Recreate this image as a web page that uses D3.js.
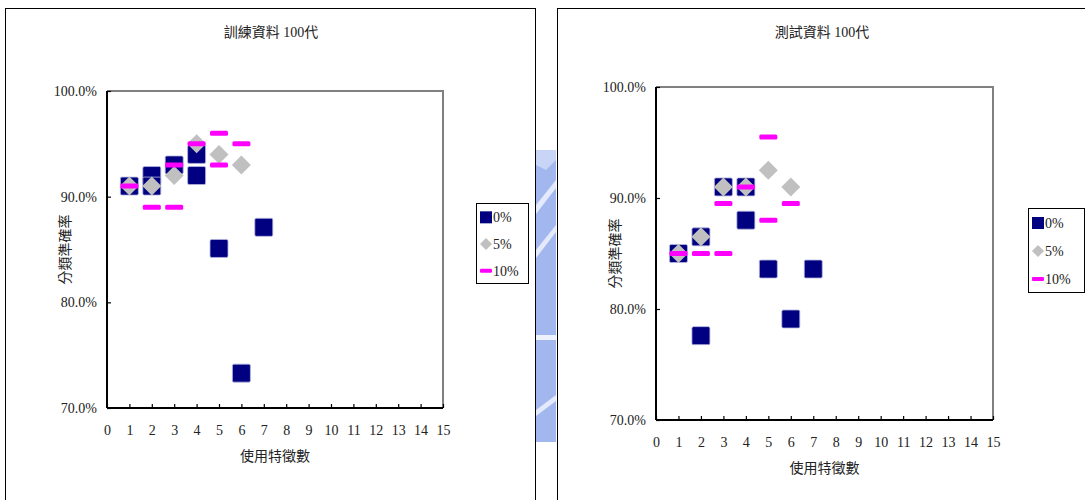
<!DOCTYPE html>
<html>
<head>
<meta charset="utf-8">
<script src="https://cdn.jsdelivr.net/npm/d3@7"></script>
<style>
  html, body { margin: 0; padding: 0; background: #fff; }
  svg { display: block; }
  text { font-family: "Liberation Serif", "Noto Sans CJK TC", serif; fill: #222; }
</style>
</head>
<body>
<svg id="chart" width="1085" height="500"></svg>
<script>
// Feature-count axis and accuracy axis
const xTickValues = d3.range(0, 16);
const yTickValues = [0.70, 0.80, 0.90, 1.00];
const seriesNames = ["0%", "5%", "10%"];

// Training data, 100 generations
const trainX0 = [1, 2, 2, 3, 4, 4, 5, 6, 7];
const trainY0 = [0.910, 0.920, 0.910, 0.930, 0.940, 0.920, 0.851, 0.733, 0.871];
const trainX5 = [1, 2, 3, 4, 5, 6];
const trainY5 = [0.910, 0.910, 0.920, 0.950, 0.940, 0.930];
const trainX10 = [1, 2, 3, 3, 4, 5, 5, 6];
const trainY10 = [0.910, 0.890, 0.930, 0.890, 0.950, 0.960, 0.930, 0.950];

// Test data, 100 generations
const testX0 = [1, 2, 2, 3, 4, 4, 5, 6, 7];
const testY0 = [0.850, 0.865, 0.776, 0.910, 0.910, 0.880, 0.836, 0.791, 0.836];
const testX5 = [1, 2, 3, 4, 5, 6];
const testY5 = [0.850, 0.865, 0.910, 0.910, 0.925, 0.910];
const testX10 = [1, 2, 3, 3, 4, 5, 5, 6];
const testY10 = [0.850, 0.850, 0.895, 0.850, 0.910, 0.955, 0.880, 0.895];

const svg = d3.select("#chart");
const zip = (xs, ys) => xs.map((x, i) => ({ x, y: ys[i] }));

// Watermark strip between the two panels
const wm = svg.append("g");
wm.append("rect").attr("x", 536).attr("y", 150).attr("width", 20).attr("height", 292)
  .attr("fill", "#a3b7ef");
wm.append("path").attr("d", "M536,150 L556,150 L556,160 L546,170 L536,165 Z").attr("fill", "#c9d5f6");
wm.append("path").attr("d", "M536,205 L556,180 L556,188 L536,214 Z").attr("fill", "#e4eafb");
wm.append("path").attr("d", "M536,250 L556,225 L556,232 L536,258 Z").attr("fill", "#e4eafb");
wm.append("rect").attr("x", 536).attr("y", 335).attr("width", 20).attr("height", 5).attr("fill", "#eef2fd");
wm.append("path").attr("d", "M536,410 L556,395 L556,401 L536,416 Z").attr("fill", "#e4eafb");

function drawPanel(cfg) {
  const g = svg.append("g");

  // panel frame (runs past the bottom edge)
  g.append("rect").attr("x", cfg.box[0] + 0.5).attr("y", cfg.box[1] + 0.5)
    .attr("width", cfg.box[2]).attr("height", 600)
    .attr("fill", "none").attr("stroke", "#000").attr("stroke-width", 1);

  g.append("text").attr("x", cfg.titleX).attr("y", 37).attr("text-anchor", "middle")
    .attr("font-size", 14).text(cfg.title);

  const [l, t, r, b] = cfg.plot;
  const x = d3.scaleLinear().domain([0, 15]).range([l, r]);
  const y = d3.scaleLinear().domain([0.70, 1.00]).range([b, t]);

  // plot frame: gray top/right
  g.append("path").attr("d", `M${l},${t} H${r} V${b}`)
    .attr("fill", "none").attr("stroke", "#808080").attr("stroke-width", 2);

  const xAxis = g.append("g").attr("transform", `translate(0,${b})`)
    .call(d3.axisBottom(x).tickValues(xTickValues).tickSize(-4).tickPadding(17)
      .tickFormat(d3.format("d")));
  const yAxis = g.append("g").attr("transform", `translate(${l},0)`)
    .call(d3.axisLeft(y).tickValues(yTickValues).tickSize(-4).tickPadding(10)
      .tickFormat(d3.format(".1%")));
  [xAxis, yAxis].forEach(a => {
    a.select(".domain").attr("stroke", "#000").attr("stroke-width", 2);
    a.selectAll(".tick line").attr("stroke", "#000").attr("stroke-width", 1.2);
    a.selectAll(".tick text").attr("font-size", 14).attr("fill", "#222");
  });
  xAxis.select(".domain").attr("d", `M${l},0H${r}`);
  yAxis.select(".domain").attr("d", `M0,${b}V${t}`);

  g.append("text").attr("x", (l + r) / 2).attr("y", b + 53).attr("text-anchor", "middle")
    .attr("font-size", 14).text("使用特徵數");
  g.append("text").attr("transform", `translate(${cfg.yLabelX},${(t + b) / 2}) rotate(-90)`)
    .attr("text-anchor", "middle").attr("font-size", 14).text("分類準確率");

  const S = 18;
  // 0% : navy squares
  g.append("g").selectAll("rect").data(zip(cfg.x0, cfg.y0)).join("rect")
    .attr("x", d => x(d.x) - S / 2).attr("y", d => y(d.y) - S / 2)
    .attr("width", S).attr("height", S).attr("rx", 1.5)
    .attr("fill", "#000080").attr("stroke", "#b8b8e0").attr("stroke-width", 0.8);
  // 5% : silver diamonds
  const D = 9.5;
  g.append("g").selectAll("path").data(zip(cfg.x5, cfg.y5)).join("path")
    .attr("d", d => `M${x(d.x)},${y(d.y) - D} L${x(d.x) + D},${y(d.y)} L${x(d.x)},${y(d.y) + D} L${x(d.x) - D},${y(d.y)} Z`)
    .attr("fill", "#c0c0c0");
  // 10% : magenta dashes
  g.append("g").selectAll("rect").data(zip(cfg.x10, cfg.y10)).join("rect")
    .attr("x", d => x(d.x) - 9).attr("y", d => y(d.y) - 2.5)
    .attr("width", 18).attr("height", 5).attr("rx", 1.5)
    .attr("fill", "#ff00ff");

  // legend
  const [lx, ly, lw, lh] = cfg.legend;
  const lg = g.append("g");
  lg.append("rect").attr("x", lx + 0.5).attr("y", ly + 0.5).attr("width", lw).attr("height", lh)
    .attr("fill", "#fff").attr("stroke", "#000");
  const step = lh / 3;
  seriesNames.forEach((name, i) => {
    const cy = ly + step * (i + 0.5) + 1;
    const mx = lx + 10;
    if (i === 0) {
      lg.append("rect").attr("x", mx - 6).attr("y", cy - 6).attr("width", 12).attr("height", 12)
        .attr("fill", "#000080");
    } else if (i === 1) {
      lg.append("path").attr("d", `M${mx},${cy - 6} L${mx + 6},${cy} L${mx},${cy + 6} L${mx - 6},${cy} Z`)
        .attr("fill", "#c0c0c0");
    } else {
      lg.append("rect").attr("x", mx - 6).attr("y", cy - 2).attr("width", 12).attr("height", 4)
        .attr("rx", 1).attr("fill", "#ff00ff");
    }
    lg.append("text").attr("x", mx + 7).attr("y", cy + 5).attr("font-size", 14).text(name);
  });
}

drawPanel({
  box: [5, 8, 530], title: "訓練資料 100代", titleX: 271,
  plot: [107, 91, 443, 408], yLabelX: 70,
  legend: [476, 203, 52, 80],
  x0: trainX0, y0: trainY0, x5: trainX5, y5: trainY5, x10: trainX10, y10: trainY10
});
drawPanel({
  box: [557, 8, 560], title: "測試資料 100代", titleX: 822,
  plot: [656, 87, 993, 420], yLabelX: 620,
  legend: [1028, 208, 56, 84],
  x0: testX0, y0: testY0, x5: testX5, y5: testY5, x10: testX10, y10: testY10
});
</script>
</body>
</html>
